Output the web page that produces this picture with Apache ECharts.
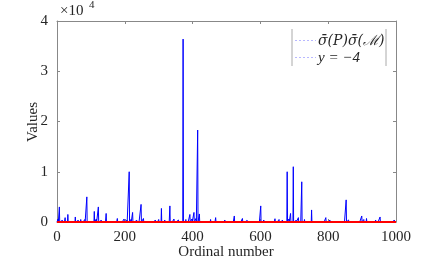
<!DOCTYPE html>
<html><head><meta charset="utf-8">
<script src="https://cdn.jsdelivr.net/npm/echarts@6/dist/echarts.min.js"></script>
<style>html,body{margin:0;padding:0;background:#fff}#c{width:436px;height:261px}</style>
</head><body><div id="c"></div>
<script>
// spike positions (ordinal number) and their values
var spikeIdx = [3,7,15,24,32,40,54,62,70,82,88,96,110,116,122,130,145,160,178,188,198,206,213,218,223,235,248,255,270,290,300,308,318,333,345,358,372,380,392,398,404,410,415,420,430,453,468,480,495,523,535,547,560,575,601,610,625,643,655,665,679,684,689,697,705,712,722,730,740,751,760,775,793,805,820,835,853,860,880,899,905,913,925,940,953,965,980,995];
var spikeVal = [600,3000,400,870,1500,300,1000,400,500,500,5000,300,2100,600,3000,400,1700,300,700,300,600,400,10000,500,1900,400,3500,700,300,400,500,2700,400,3200,600,400,36400,500,1500,600,1900,700,18300,1600,300,500,870,300,400,1200,300,700,300,300,3200,400,300,650,500,400,10000,600,1700,11000,400,870,8000,500,300,2400,300,300,870,400,300,300,4400,400,300,1200,500,700,300,400,1000,300,300,400];
var refLineX = [0,1000];
var refLineY = [-4,-4];
var legendNames = ['σ̄(P)σ̄(ℳ)', 'y = −4'];

var N = 1000;
var dense = [];
for (var i = 0; i <= N; i++) dense.push([i, 0]);
for (var k = 0; k < spikeIdx.length; k++) dense[spikeIdx[k]][1] = spikeVal[k];

var serif = '"Liberation Serif","DejaVu Serif",serif';
var txt = '#262626';
var chart = echarts.init(document.getElementById('c'), null, {renderer:'canvas'});
chart.setOption({
  animation:false,
  backgroundColor:'#fff',
  grid:{left:57,right:40,top:21,bottom:39},
  xAxis:[{
    type:'value',min:0,max:1000,interval:200,
    axisLine:{show:true,lineStyle:{color:'#888',width:1}},
    axisTick:{show:true,inside:true,length:3,lineStyle:{color:'#888'}},
    axisLabel:{fontFamily:serif,fontSize:15,color:txt,margin:8,formatter:function(v){return String(v);}},
    splitLine:{show:false}
  },{
    type:'value',min:0,max:1000,interval:200,position:'top',
    axisLine:{show:true,onZero:false,lineStyle:{color:'#888',width:1}},
    axisTick:{show:true,inside:true,length:3,lineStyle:{color:'#888'}},
    axisLabel:{show:false},splitLine:{show:false}
  }],
  yAxis:[{
    type:'value',min:0,max:40000,interval:10000,
    axisLine:{show:true,lineStyle:{color:'#888',width:1}},
    axisTick:{show:true,inside:true,length:3,lineStyle:{color:'#888'}},
    axisLabel:{fontFamily:serif,fontSize:15,color:txt,margin:9,
      formatter:function(v){return String(v/10000);}},
    splitLine:{show:false}
  },{
    type:'value',min:0,max:40000,interval:10000,position:'right',
    axisLine:{show:true,onZero:false,lineStyle:{color:'#888',width:1}},
    axisTick:{show:true,inside:true,length:3,lineStyle:{color:'#888'}},
    axisLabel:{show:false},splitLine:{show:false}
  }],
  graphic:[
    {type:'text',x:226,y:252,style:{text:'Ordinal number',font:'15px '+serif,fill:txt,align:'center',verticalAlign:'middle'}},
    {type:'text',x:33,y:122,rotation:Math.PI/2,style:{text:'Values',font:'15px '+serif,fill:txt,align:'center',verticalAlign:'middle'}},
    {type:'text',x:60,y:4,style:{text:'×10',font:'15px '+serif,fill:txt}},
    {type:'text',x:89,y:0,style:{text:'4',font:'11px '+serif,fill:txt}},
    {type:'line',shape:{x1:292,y1:29,x2:292,y2:66},style:{stroke:'#aaa',lineWidth:1}},
    {type:'line',shape:{x1:386,y1:29,x2:386,y2:66},style:{stroke:'#aaa',lineWidth:1}},
    {type:'line',shape:{x1:295,y1:40.5,x2:316,y2:40.5},style:{stroke:'#b8b8ff',lineWidth:1,lineDash:[2,2]}},
    {type:'line',shape:{x1:295,y1:57.5,x2:316,y2:57.5},style:{stroke:'#b8b8ff',lineWidth:1,lineDash:[2,2]}},
    {type:'text',x:318,y:41,style:{text:legendNames[0],font:'italic 14px "DejaVu Serif",serif',fill:txt,verticalAlign:'middle'}},
    {type:'text',x:318,y:58,style:{text:legendNames[1],font:'italic 15px '+serif,fill:txt,verticalAlign:'middle'}}
  ],
  series:[
    {name:legendNames[0],type:'line',data:dense,showSymbol:false,symbol:'none',sampling:'none',
      lineStyle:{color:'#0000ff',width:1},itemStyle:{color:'#0000ff'}},
    {name:legendNames[1],type:'line',data:refLineX.map(function(x,i){return [x,refLineY[i]];}),showSymbol:false,symbol:'none',clip:false,
      lineStyle:{color:'#ff0000',width:2},itemStyle:{color:'#ff0000'}}
  ]
});
</script></body></html>
